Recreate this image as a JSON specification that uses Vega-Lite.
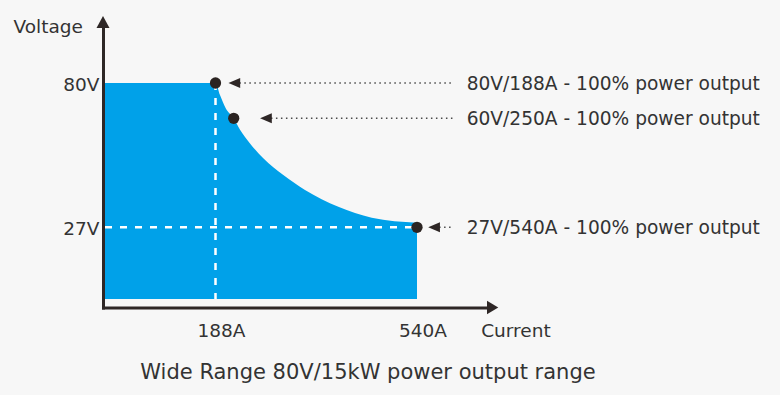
{
  "$schema": "https://vega.github.io/schema/vega-lite/v6.json",
  "width": 384,
  "height": 279.5,
  "autosize": {"type": "none"},
  "padding": {"left": 103, "top": 28, "right": 293, "bottom": 87.5},
  "background": "#f7f7f7",
  "config": {"view": {"stroke": null}, "font": "DejaVu Sans"},
  "title": {
    "text": "Wide Range 80V/15kW power output range",
    "orient": "bottom",
    "anchor": "middle",
    "frame": "group",
    "dx": 73,
    "offset": 22,
    "font": "DejaVu Sans",
    "fontSize": 21,
    "fontWeight": "normal",
    "color": "#333333"
  },
  "datasets": {
    "curve": [
      {"current": 0, "voltage": 80},
      {"current": 188, "voltage": 80},
      {"current": 203.3, "voltage": 73.2},
      {"current": 222.8, "voltage": 65.7},
      {"current": 250, "voltage": 60},
      {"current": 260, "voltage": 56.5},
      {"current": 275.8, "voltage": 52.4},
      {"current": 296.8, "voltage": 47.9},
      {"current": 328.5, "voltage": 42.8},
      {"current": 362.8, "voltage": 38.3},
      {"current": 415.5, "voltage": 33.2},
      {"current": 468.4, "voltage": 29.9},
      {"current": 540, "voltage": 28.4}
    ],
    "points": [
      {"current": 188, "voltage": 80, "label": "80V/188A - 100% power output", "callout": 251},
      {"current": 250, "voltage": 60, "label": "60V/250A - 100% power output", "callout": 301},
      {"current": 540, "voltage": 27, "label": "27V/540A - 100% power output", "callout": 570}
    ]
  },
  "layer": [
    {
      "data": {"name": "curve"},
      "mark": {"type": "area", "color": "#00a1e9", "opacity": 1, "interpolate": "monotone"},
      "encoding": {
        "x": {
          "field": "current", "type": "quantitative",
          "scale": {"type": "linear", "domain": [-3.5, 0, 188, 250, 540, 663], "range": [0, 2, 112.5, 130.7, 314, 384], "zero": false, "nice": false},
          "axis": {
            "values": [188, 540], "labelExpr": "datum.value + 'A'",
            "ticks": false, "tickSize": 0, "grid": false,
            "domainColor": "#2e2726", "domainWidth": 3, "domainCap": "square",
            "labelFont": "DejaVu Sans", "labelFontSize": 18.5, "labelColor": "#333333",
            "labelPadding": 14, "labelOffset": 5.5, "labelFlush": false, "labelOverlap": false,
            "title": "Current", "titleFont": "DejaVu Sans", "titleFontSize": 18.5, "titleFontWeight": "normal",
            "titleColor": "#333333", "titleX": 377.7, "titleY": 29.2, "titleAlign": "left",
            "titleBaseline": "alphabetic", "titleAngle": 0
          }
        },
        "y": {
          "field": "voltage", "type": "quantitative",
          "scale": {"type": "linear", "domain": [-3.2, 0, 27, 60, 80, 100.2], "range": [279.5, 271, 199.3, 90.3, 55, 0], "zero": false, "nice": false},
          "axis": {
            "values": [27, 80], "labelExpr": "datum.value + 'V'",
            "ticks": false, "tickSize": 0, "grid": false,
            "domainColor": "#2e2726", "domainWidth": 3, "domainCap": "square",
            "labelFont": "DejaVu Sans", "labelFontSize": 18.5, "labelColor": "#333333",
            "labelPadding": 4, "labelBaseline": "alphabetic", "labelOffset": 7.5, "labelFlush": false, "labelOverlap": false,
            "title": "Voltage", "titleFont": "DejaVu Sans", "titleFontSize": 18.5, "titleFontWeight": "normal",
            "titleColor": "#333333", "titleX": -90, "titleY": 4.7, "titleAlign": "left",
            "titleBaseline": "alphabetic", "titleAngle": 0
          }
        },
        "y2": {"datum": 0}
      }
    },
    {
      "data": {"values": [{}]},
      "mark": {"type": "rule", "color": "#ffffff", "strokeWidth": 2.5, "strokeDash": [7, 8]},
      "encoding": {
        "x": {"datum": 0, "type": "quantitative"},
        "x2": {"datum": 540},
        "y": {"datum": 27, "type": "quantitative"}
      }
    },
    {
      "data": {"values": [{}]},
      "mark": {"type": "rule", "color": "#ffffff", "strokeWidth": 2.5, "strokeDash": [7, 8]},
      "encoding": {
        "x": {"datum": 188, "type": "quantitative"},
        "y": {"datum": 80, "type": "quantitative"},
        "y2": {"datum": 0}
      }
    },
    {
      "data": {"values": [{}]},
      "mark": {"type": "point", "shape": "M0,-0.92L-1,0.92L1,0.92Z", "size": 169, "filled": true, "opacity": 1, "color": "#2e2726", "strokeWidth": 0},
      "encoding": {
        "x": {"datum": -3.5, "type": "quantitative"},
        "y": {"datum": 102.4, "type": "quantitative"}
      }
    },
    {
      "data": {"values": [{}]},
      "mark": {"type": "point", "shape": "M0.85,0L-0.85,-1L-0.85,1Z", "size": 177, "filled": true, "opacity": 1, "color": "#2e2726", "strokeWidth": 0},
      "encoding": {
        "x": {"datum": 672.9, "type": "quantitative"},
        "y": {"datum": -3.2, "type": "quantitative"}
      }
    },
    {
      "data": {"name": "points"},
      "mark": {"type": "rule", "color": "#4a4a4a", "strokeWidth": 1.5, "strokeDash": [1.5, 3.5]},
      "encoding": {
        "x": {"field": "callout", "type": "quantitative"},
        "x2": {"datum": 605},
        "y": {"field": "voltage", "type": "quantitative"}
      }
    },
    {
      "data": {"name": "points"},
      "mark": {"type": "point", "shape": "M-1,0L1,-0.85L1,0.85Z", "size": 137, "filled": true, "opacity": 1, "color": "#2e2726", "strokeWidth": 0},
      "encoding": {
        "x": {"field": "callout", "type": "quantitative"},
        "y": {"field": "voltage", "type": "quantitative"}
      }
    },
    {
      "data": {"name": "points"},
      "mark": {"type": "point", "shape": "circle", "size": 127, "filled": true, "opacity": 1, "color": "#2b2422", "strokeWidth": 0},
      "encoding": {
        "x": {"field": "current", "type": "quantitative"},
        "y": {"field": "voltage", "type": "quantitative"}
      }
    },
    {
      "data": {"name": "points"},
      "mark": {"type": "text", "align": "left", "baseline": "alphabetic", "dy": 7, "font": "DejaVu Sans", "fontSize": 18.6, "color": "#333333"},
      "encoding": {
        "x": {"datum": 627.3, "type": "quantitative"},
        "y": {"field": "voltage", "type": "quantitative"},
        "text": {"field": "label"}
      }
    }
  ]
}
